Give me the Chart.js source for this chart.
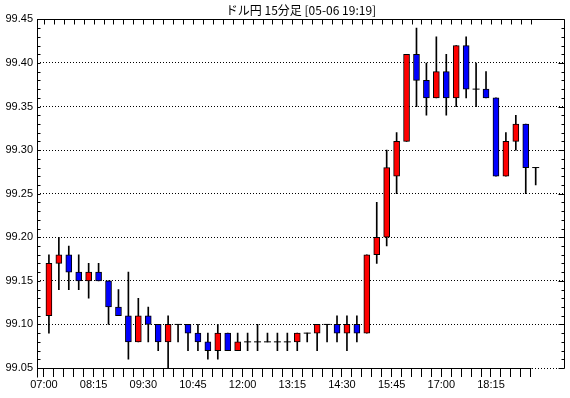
<!DOCTYPE html>
<html>
<head>
<meta charset="utf-8">
<script src="https://cdn.jsdelivr.net/npm/chart.js@4.4.0/dist/chart.umd.min.js"></script>
<style>
  html, body { margin: 0; padding: 0; background: #fff; }
  canvas { display: block; }
</style>
</head>
<body>
<canvas id="candleChart" width="570" height="398"></canvas>
<script>
// 15-minute candles, 07:00 .. 19:15
const opens  = [99.11, 99.17, 99.18, 99.16, 99.15, 99.16, 99.15, 99.12, 99.11, 99.08,
                99.11, 99.10, 99.08, 99.10, 99.10, 99.09, 99.08, 99.07, 99.09, 99.07,
                99.08, 99.08, 99.08, 99.08, 99.08, 99.08, 99.09, 99.09, 99.10, 99.10,
                99.09, 99.10, 99.09, 99.18, 99.20, 99.27, 99.31, 99.41, 99.38, 99.36,
                99.39, 99.36, 99.42, 99.37, 99.37, 99.36, 99.27, 99.31, 99.33, 99.28];
const highs  = [99.18, 99.20, 99.19, 99.18, 99.17, 99.17, 99.15, 99.14, 99.16, 99.13,
                99.12, 99.10, 99.11, 99.10, 99.10, 99.10, 99.09, 99.10, 99.09, 99.09,
                99.09, 99.10, 99.09, 99.09, 99.09, 99.09, 99.09, 99.10, 99.10, 99.11,
                99.11, 99.11, 99.18, 99.24, 99.30, 99.32, 99.41, 99.44, 99.40, 99.43,
                99.41, 99.42, 99.43, 99.40, 99.39, 99.36, 99.32, 99.34, 99.33, 99.28];
const lows   = [99.09, 99.14, 99.14, 99.14, 99.13, 99.15, 99.10, 99.11, 99.06, 99.08,
                99.08, 99.07, 99.05, 99.08, 99.07, 99.07, 99.06, 99.06, 99.07, 99.07,
                99.07, 99.07, 99.08, 99.07, 99.07, 99.07, 99.08, 99.07, 99.08, 99.08,
                99.07, 99.08, 99.09, 99.17, 99.19, 99.25, 99.31, 99.35, 99.34, 99.36,
                99.34, 99.35, 99.36, 99.35, 99.36, 99.27, 99.27, 99.30, 99.25, 99.26];
const closes = [99.17, 99.18, 99.16, 99.15, 99.16, 99.15, 99.12, 99.11, 99.08, 99.11,
                99.10, 99.08, 99.10, 99.10, 99.09, 99.08, 99.07, 99.09, 99.07, 99.08,
                99.08, 99.08, 99.08, 99.08, 99.08, 99.09, 99.09, 99.10, 99.10, 99.09,
                99.10, 99.09, 99.18, 99.20, 99.28, 99.31, 99.41, 99.38, 99.36, 99.39,
                99.36, 99.42, 99.37, 99.37, 99.36, 99.27, 99.31, 99.33, 99.28, 99.28];

const timeLabels = ["07:00", "08:15", "09:30", "10:45", "12:00", "13:15", "14:30", "15:45", "17:00", "18:15"];
const priceTicks = [99.05, 99.10, 99.15, 99.20, 99.25, 99.30, 99.35, 99.40, 99.45];
const titleText = "ドル円 15分足 [05-06 19:19]";

const UP = "#ff0000";
const DOWN = "#0000ff";

document.addEventListener("DOMContentLoaded", function () {
  Chart.defaults.color = "#000";
  Chart.defaults.font.family = "'Liberation Sans', Arial, sans-serif";
  Chart.defaults.font.size = 11;

  const bodies = [];
  const wicks = [];
  const dojis = [];
  opens.forEach(function (o, i) {
    wicks.push({ x: i, y: [lows[i], highs[i]] });
    if (o === closes[i]) {
      dojis.push({ x: i, y: o });
    } else {
      bodies.push({ x: i, y: [o, closes[i]] });
    }
  });

  // frame, inner ticks on top / left / right, ruler line at the bottom
  const framePlugin = {
    id: "frame",
    afterDatasetsDraw(chart) {
      const ctx = chart.ctx;
      const a = chart.chartArea;
      const x = chart.scales.x;
      const y = chart.scales.y;
      const px = (v) => Math.round(v) + 0.5;
      const L = px(a.left), R = px(a.right) - 1, T = px(a.top), B = px(a.bottom);
      ctx.save();
      ctx.strokeStyle = "#000";
      ctx.lineWidth = 1;
      ctx.beginPath();
      ctx.moveTo(L, B + 9);
      ctx.lineTo(L, T);
      ctx.lineTo(R, T);
      ctx.lineTo(R, B);
      const lastTick = x.ticks[x.ticks.length - 1].value;
      ctx.moveTo(L, B);
      ctx.lineTo(px(x.getPixelForValue(lastTick)), B);
      x.ticks.forEach(function (t) {
        const xx = px(x.getPixelForValue(t.value));
        ctx.moveTo(xx, T);
        ctx.lineTo(xx, T + 5);
      });
      const yMin = priceTicks[0];
      const steps = Math.round((priceTicks[priceTicks.length - 1] - yMin) / 0.01);
      for (let k = 0; k <= steps; k++) {
        const yy = px(y.getPixelForValue(yMin + k * 0.01));
        ctx.moveTo(L, yy);
        ctx.lineTo(L + 3, yy);
        ctx.moveTo(R, yy);
        ctx.lineTo(R - (k % 5 === 0 ? 6 : 3), yy);
      }
      ctx.stroke();
      ctx.restore();
    },
  };

  const ctx = document.getElementById("candleChart").getContext("2d");
  new Chart(ctx, {
    type: "bar",
    data: {
      datasets: [
        {
          type: "scatter",
          data: dojis,
          pointStyle: "line",
          pointRadius: 3.5,
          borderColor: "#000",
          borderWidth: 1,
          order: 0,
        },
        {
          data: bodies,
          grouped: false,
          barThickness: 6,
          borderWidth: 1,
          borderColor: "#000",
          borderSkipped: false,
          backgroundColor: function (c) {
            const r = c.raw;
            return r && r.y[1] > r.y[0] ? UP : DOWN;
          },
          order: 1,
        },
        {
          data: wicks,
          grouped: false,
          barThickness: 1,
          borderWidth: 0,
          backgroundColor: "#000",
          order: 2,
        },
      ],
    },
    options: {
      responsive: false,
      animation: false,
      events: [],
      layout: { padding: { right: 5 } },
      plugins: {
        legend: { display: false },
        tooltip: { enabled: false },
        title: {
          display: true,
          text: titleText,
          fullSize: false,
          color: "#000",
          font: { family: "'Noto Sans CJK JP', sans-serif", size: 12, weight: "normal" },
          padding: { top: 3, bottom: 2 },
        },
      },
      scales: {
        x: {
          type: "linear",
          min: -1.2,
          max: 51.95,
          offset: false,
          afterBuildTicks: function (scale) {
            scale.ticks = opens.map(function (o, i) { return { value: i - 0.5 }; });
          },
          afterFit: function (scale) { scale.height = 30; },
          ticks: {
            autoSkip: false,
            maxRotation: 0,
            padding: 1,
            callback: function (v, i) {
              return i % 5 === 0 ? timeLabels[i / 5] : "";
            },
          },
          grid: {
            offset: false,
            drawOnChartArea: false,
            drawTicks: true,
            tickLength: 9,
            color: "#000",
          },
          border: { display: false },
        },
        y: {
          min: priceTicks[0],
          max: priceTicks[priceTicks.length - 1],
          beginAtZero: false,
          afterBuildTicks: function (scale) {
            scale.ticks = priceTicks.map(function (v) { return { value: v }; });
          },
          afterFit: function (scale) { scale.width = 37; },
          ticks: {
            padding: 4,
            callback: function (v) { return Number(v).toFixed(2); },
          },
          grid: {
            drawTicks: false,
            color: "#000",
          },
          border: { display: false, dash: [1, 2] },
        },
      },
    },
    plugins: [framePlugin],
  });
});
</script>
</body>
</html>
